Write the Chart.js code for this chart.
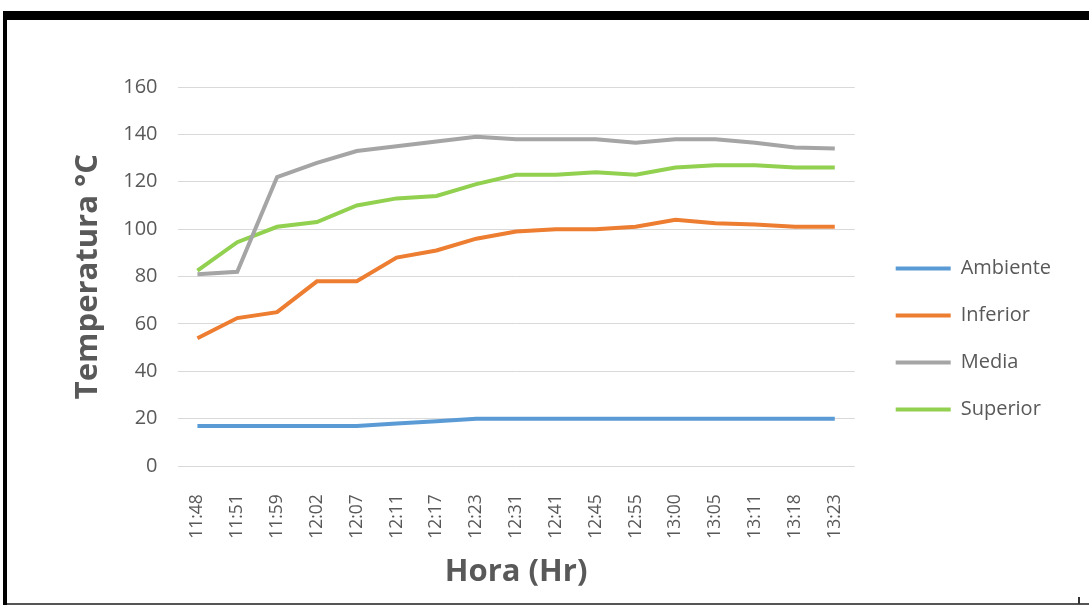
<!DOCTYPE html>
<html>
<head>
<meta charset="utf-8">
<script src="https://cdn.jsdelivr.net/npm/chart.js@4.4.1/dist/chart.umd.min.js"></script>
<style>
  body { margin: 0; background: #fff; }
  #wrap { position: absolute; left: 0; top: 0; width: 1089px; height: 606px; }
  .bar { position: absolute; background: #000; }
</style>
</head>
<body>
<div id="wrap"><canvas id="tempChart" width="1089" height="606"></canvas></div>
<div class="bar" style="left:3px;top:11px;width:1086px;height:9px;"></div>
<div class="bar" style="left:3px;top:11px;width:4px;height:594px;"></div>
<div class="bar" style="left:7px;top:603px;width:1082px;height:2px;background:#555;"></div>
<div class="bar" style="left:1078px;top:597px;width:2px;height:7px;background:#333;"></div>
<script>
const horas = ['11:48','11:51','11:59','12:02','12:07','12:11','12:17','12:23','12:31','12:41','12:45','12:55','13:00','13:05','13:11','13:18','13:23'];
const ambiente = [17, 17, 17, 17, 17, 18, 19, 20, 20, 20, 20, 20, 20, 20, 20, 20, 20];
const inferior = [54, 62.5, 65, 78, 78, 88, 91, 96, 99, 100, 100, 101, 104, 102.5, 102, 101, 101];
const media = [81, 82, 122, 128, 133, 135, 137, 139, 138, 138, 138, 136.5, 138, 138, 136.5, 134.5, 134];
const superior = [82.5, 94.5, 101, 103, 110, 113, 114, 119, 123, 123, 124, 123, 126, 127, 127, 126, 126];

const colors = {
    Ambiente: '#5B9BD5',
    Inferior: '#ED7D31',
    Media: '#A5A5A5',
    Superior: '#92D050',
    Grid: '#D9D9D9',
    Text: '#595959'
};

function serie(label, data) {
    return {
        label: label,
        data: data,
        borderColor: colors[label],
        backgroundColor: colors[label],
        borderWidth: 4,
        pointRadius: 0,
        tension: 0,
        fill: false
    };
}

// push the legend a bit to the right, away from the plot
const legendShift = {
    id: 'legendShift',
    afterLayout(chart) {
        chart.legend.left += 14;
        chart.legend.right += 14;
    }
};

new Chart(document.getElementById('tempChart'), {
    type: 'line',
    data: {
        labels: horas,
        datasets: [
            serie('Ambiente', ambiente),
            serie('Inferior', inferior),
            serie('Media', media),
            serie('Superior', superior)
        ]
    },
    plugins: [legendShift],
    options: {
        responsive: false,
        animation: false,
        layout: {
            padding: { left: 70, right: 42, top: 87, bottom: 15 }
        },
        plugins: {
            tooltip: { enabled: false },
            legend: {
                position: 'right',
                labels: {
                    usePointStyle: true,
                    pointStyle: 'line',
                    pointStyleWidth: 55,
                    color: colors.Text,
                    font: { family: 'Open Sans', size: 20 },
                    padding: 27
                }
            }
        },
        scales: {
            x: {
                offset: true,
                grid: { display: false, drawTicks: false },
                border: { display: false },
                ticks: {
                    color: colors.Text,
                    font: { family: 'Open Sans', size: 17.5 },
                    minRotation: 90,
                    maxRotation: 90,
                    padding: 28,
                    autoSkip: false
                },
                title: {
                    display: true,
                    text: 'Hora (Hr)',
                    color: colors.Text,
                    font: { family: 'Open Sans', size: 31, weight: 'bold' },
                    padding: { top: -13, bottom: 0 }
                }
            },
            y: {
                min: 0,
                max: 160,
                grid: { color: colors.Grid, lineWidth: 1, drawTicks: false },
                border: { display: false },
                ticks: {
                    stepSize: 20,
                    color: colors.Text,
                    font: { family: 'Open Sans', size: 20 },
                    padding: 20
                },
                title: {
                    display: true,
                    text: 'Temperatura °C',
                    color: colors.Text,
                    font: { family: 'Open Sans', size: 31, weight: 'bold' },
                    padding: { top: 0, bottom: -4 }
                }
            }
        }
    }
});
</script>
</body>
</html>
